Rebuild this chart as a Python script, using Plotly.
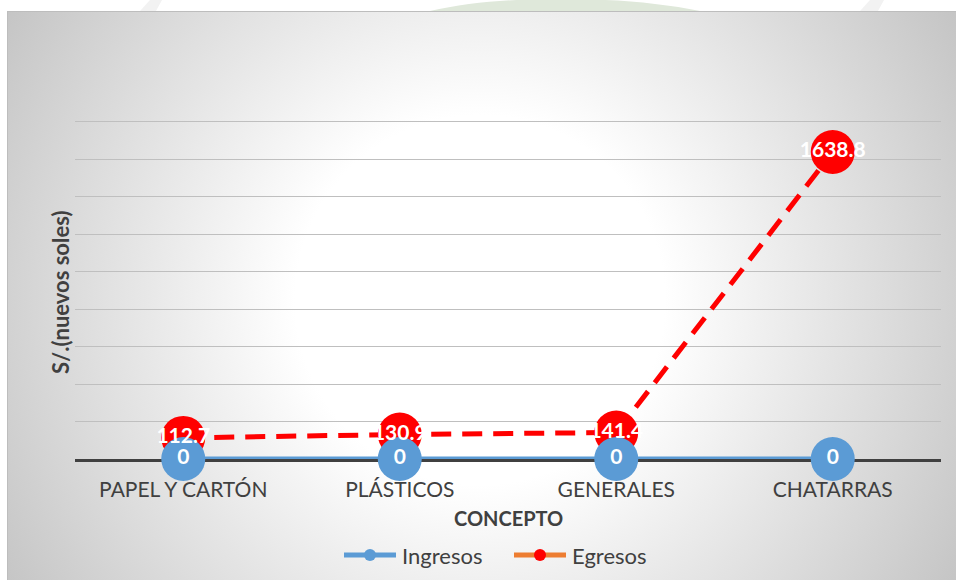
import base64
import plotly.graph_objects as go

# Data
conceptos = ["PAPEL Y CARTÓN", "PLÁSTICOS", "GENERALES", "CHATARRAS"]
ingresos = [0, 0, 0, 0]
egresos = [112.7, 130.9, 141.4, 1638.8]
series_names = ["Ingresos", "Egresos"]

W, H = 956, 580
FONT = "Lato"
TXT = "#404040"
BLUE = "#5B9BD5"
RED = "#FF0000"
ORANGE = "#ED7D31"

# Chart-area background: radial gradient panel with a thin border
svg = f"""<svg xmlns='http://www.w3.org/2000/svg' width='{W}' height='{H}' viewBox='0 0 {W} {H}' preserveAspectRatio='none'>
<defs><radialGradient id='g' gradientUnits='userSpaceOnUse' cx='480' cy='300' r='560'>
<stop offset='0' stop-color='#ffffff'/><stop offset='0.33' stop-color='#ffffff'/>
<stop offset='1' stop-color='#c4c4c4'/></radialGradient></defs>
<path d='M430,11 C470,2 520,-2 560,0 C610,-2 660,3 700,11 Z' fill='#dfe8da'/>
<path d='M140,11 L150,0 L162,0 L156,11 Z' fill='#f2f2f2'/>
<path d='M860,11 L870,0 L884,0 L878,11 Z' fill='#f2f2f2'/>
<rect x='7.5' y='11.5' width='{W}' height='{H}' fill='url(#g)' stroke='#bdbdbd' stroke-width='1'/>
</svg>"""
bg_uri = "data:image/svg+xml;base64," + base64.b64encode(svg.encode()).decode()

x_dom = [75 / W, 941 / W]
y_dom = [(H - 459) / H, (H - 119) / H]

fig = go.Figure()

# Egresos line and markers
fig.add_trace(go.Scatter(
    x=conceptos, y=egresos, mode="lines+markers", name="Egresos",
    line=dict(color=RED, width=5, dash="20px,11px"),
    marker=dict(color=RED, size=44), showlegend=False, hoverinfo="skip",
    cliponaxis=False))

# Ingresos line and markers
fig.add_trace(go.Scatter(
    x=conceptos, y=ingresos, mode="lines+markers", name="Ingresos",
    line=dict(color=BLUE, width=5),
    marker=dict(color=BLUE, size=44), showlegend=False, hoverinfo="skip",
    cliponaxis=False))

# Data labels drawn on top of all markers
label_font = dict(family=FONT, size=21, color="white", weight="bold")
fig.add_trace(go.Scatter(
    x=conceptos, y=ingresos, mode="text", text=[f"{v:g}" for v in ingresos],
    textposition="middle center", textfont=label_font,
    showlegend=False, hoverinfo="skip", cliponaxis=False))
fig.add_trace(go.Scatter(
    x=conceptos, y=egresos, mode="text", text=[f"{v:.1f}" for v in egresos],
    textposition="middle center", textfont=label_font,
    showlegend=False, hoverinfo="skip", cliponaxis=False))

# Legend drawn as line + dot + label, in pixel positions converted to paper units
def px(x):
    return x / W


def py(y):
    return (H - y) / H


legend_y = 555
legend_items = [
    (series_names[0], BLUE, BLUE, 342),
    (series_names[1], ORANGE, RED, 512),
]
shapes = []
annotations = []
for name, line_col, dot_col, x0 in legend_items:
    shapes.append(dict(type="line", xref="paper", yref="paper",
                       x0=px(x0 + 2), x1=px(x0 + 54), y0=py(legend_y), y1=py(legend_y),
                       line=dict(color=line_col, width=5)))
    shapes.append(dict(type="circle", xref="paper", yref="paper",
                       x0=px(x0 + 22), x1=px(x0 + 34),
                       y0=py(legend_y - 6), y1=py(legend_y + 6),
                       fillcolor=dot_col, line=dict(width=0)))
    annotations.append(dict(text=name, x=px(x0 + 58), y=py(legend_y),
                            xref="paper", yref="paper", xanchor="left", yanchor="middle",
                            showarrow=False, font=dict(family=FONT, size=22, color=TXT)))

annotations += [
    dict(text="<b>CONCEPTO</b>", x=px(508), y=py(518), xanchor="center", yanchor="middle",
         xref="paper", yref="paper", showarrow=False,
         font=dict(family=FONT, size=20, color=TXT)),
    dict(text="<b>S/.(nuevos soles)</b>", x=px(60), y=py(293), xanchor="center",
         yanchor="middle", xref="paper", yref="paper", showarrow=False, textangle=-90,
         font=dict(family=FONT, size=22, color=TXT)),
]

fig.update_layout(
    width=W, height=H,
    margin=dict(l=0, r=0, t=0, b=0),
    paper_bgcolor="white", plot_bgcolor="rgba(0,0,0,0)",
    font=dict(family=FONT, color=TXT),
    images=[dict(source=bg_uri, xref="paper", yref="paper", x=0, y=1,
                 sizex=1, sizey=1, sizing="stretch", layer="below",
                 xanchor="left", yanchor="top")],
    xaxis=dict(domain=x_dom, range=[-0.5, 3.5], showgrid=False,
               showline=True, linecolor=TXT, linewidth=3, layer="below traces",
               ticks="", tickfont=dict(family=FONT, size=21, color=TXT),
               ticklabelstandoff=10, fixedrange=True),
    yaxis=dict(domain=y_dom, range=[0, 1815], tick0=0, dtick=200, showgrid=True,
               gridcolor="#bfbfbf", gridwidth=1, zeroline=False,
               showticklabels=False, showline=False, ticks="", fixedrange=True),
    shapes=shapes,
    annotations=annotations,
    showlegend=False,
)

fig.write_html("out.html")
